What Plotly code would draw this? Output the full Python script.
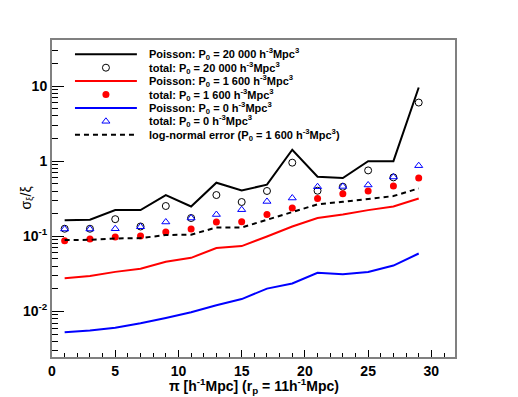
import plotly.graph_objects as go

pi_bins = [1, 3, 5, 7, 9, 11, 13, 15, 17, 19, 21, 23, 25, 27, 29]

poisson_20000 = [0.164, 0.166, 0.223, 0.223, 0.354, 0.249, 0.517, 0.408, 0.486, 1.42,
                 0.621, 0.597, 1.0, 1.0, 9.55]
total_20000 = [0.126, 0.126, 0.169, 0.135, 0.253, 0.175, 0.354, 0.286, 0.401, 0.955,
               0.404, 0.457, 0.753, 0.608, 6.03]
poisson_1600 = [0.0277, 0.0295, 0.0336, 0.0369, 0.0457, 0.0517, 0.0696, 0.0740, 0.0994, 0.135,
                0.175, 0.195, 0.223, 0.249, 0.319]
total_1600 = [0.0871, 0.0918, 0.0976, 0.1006, 0.114, 0.125, 0.155, 0.156, 0.195, 0.238,
              0.319, 0.369, 0.401, 0.467, 0.597]
poisson_0 = [0.00528, 0.00555, 0.00608, 0.00697, 0.00819, 0.00976, 0.0121, 0.0146, 0.0201, 0.0235,
             0.0326, 0.0313, 0.0334, 0.0408, 0.059]
total_0 = [0.125, 0.125, 0.126, 0.134, 0.155, 0.175, 0.195, 0.226, 0.291, 0.323,
           0.457, 0.461, 0.482, 0.616, 0.871]
lognormal_1600 = [0.0890, 0.0898, 0.0935, 0.0946, 0.104, 0.105, 0.131, 0.131, 0.166, 0.210,
                  0.266, 0.288, 0.316, 0.343, 0.434]

y_tickvals = [0.01, 0.1, 1, 10]
y_ticktext = ["10<sup>-2</sup>", "10<sup>-1</sup>", "1", "10"]
x_tickvals = [0, 5, 10, 15, 20, 25, 30]

unit = " h<sup>-3</sup>Mpc<sup>3</sup>"
legend_labels = [
    "Poisson: P<sub>0</sub> = 20 000" + unit,
    "total: P<sub>0</sub> = 20 000" + unit,
    "Poisson: P<sub>0</sub> = 1 600" + unit,
    "total: P<sub>0</sub> = 1 600" + unit,
    "Poisson: P<sub>0</sub> = 0" + unit,
    "total: P<sub>0</sub> = 0" + unit,
    "log-normal error (P<sub>0</sub> = 1 600" + unit + ")",
]

FONT = "Liberation Sans"

# (kind, style) for each series, same order as legend_labels
styles = [
    ("lines", dict(color="black", width=2)),
    ("markers", dict(symbol="circle-open", color="black", size=7, line=dict(width=1))),
    ("lines", dict(color="#ff0000", width=2)),
    ("markers", dict(symbol="circle", color="#ff0000", size=7)),
    ("lines", dict(color="#0000ff", width=2)),
    ("markers", dict(symbol="triangle-up-open", color="#0000ff", size=7, line=dict(width=1))),
    ("lines", dict(color="black", width=2, dash="5px,4px")),
]
series = [poisson_20000, total_20000, poisson_1600, total_1600, poisson_0, total_0, lognormal_1600]

fig = go.Figure()
for (kind, st), ys, lab in zip(styles, series, legend_labels):
    if kind == "lines":
        fig.add_trace(go.Scatter(x=pi_bins, y=ys, mode="lines", line=st, name=lab, showlegend=False))
    else:
        fig.add_trace(go.Scatter(x=pi_bins, y=ys, mode="markers", marker=st, name=lab, showlegend=False))

# plot box in window pixels; the page body has an 8px margin, so the figure is shifted by it
OFF = 8
W, H = 518 - OFF, 397 - OFF
PL, PT, PR, PB = 52, 40, 455.5, 357
PW, PH = PR - PL, PB - PT

# hand-made legend (ROOT style, tight rows) on an overlay axis in plot fractions
key_x0 = (75 - PL) / PW
key_x1 = (137 - PL) / PW
key_xm = (106 - PL) / PW
text_x = (147 - PL) / PW
annotations = []
for i, ((kind, st), lab) in enumerate(zip(styles, legend_labels)):
    yy = (PB - (54.3 + 13.4 * i)) / PH
    if kind == "lines":
        fig.add_trace(go.Scatter(x=[key_x0, key_x1], y=[yy, yy], mode="lines", line=st,
                                 xaxis="x2", yaxis="y2", showlegend=False, hoverinfo="skip"))
    else:
        fig.add_trace(go.Scatter(x=[key_xm], y=[yy], mode="markers", marker=st,
                                 xaxis="x2", yaxis="y2", showlegend=False, hoverinfo="skip"))
    annotations.append(dict(text="<b>" + lab + "</b>", xref="paper", yref="paper",
                            x=text_x, y=yy, xanchor="left", yanchor="middle", showarrow=False,
                            font=dict(size=11, family=FONT)))

annotations.append(dict(text="σ<sub>ξ</sub>/ξ", xref="paper", yref="paper",
                        x=(26 - PL) / PW, y=0.5, xanchor="center", yanchor="middle",
                        textangle=-90, showarrow=False, font=dict(size=14, family=FONT)))
annotations.append(dict(text="<b>π [h<sup>-1</sup>Mpc] (r<sub>p</sub> = 11h<sup>-1</sup>Mpc)</b>",
                        xref="paper", yref="paper", x=0.5, y=(PB - 386) / PH,
                        xanchor="center", yanchor="middle", showarrow=False,
                        font=dict(size=14, family=FONT)))

minor_vals = [m * 10 ** k for k in range(-3, 2) for m in range(2, 10)]

fig.update_layout(
    width=W, height=H,
    margin=dict(l=PL - OFF, r=518 - PR, t=PT - OFF, b=397 - PB),
    paper_bgcolor="white", plot_bgcolor="white",
    font=dict(family=FONT, size=14, color="black"),
    showlegend=False,
    xaxis=dict(range=[0, 31.87], showgrid=False, zeroline=False, automargin=False,
               showline=True, linecolor="#808080", linewidth=2, mirror=True,
               ticks="inside", ticklen=7, tickcolor="black", tickwidth=1,
               tickvals=x_tickvals, ticktext=["<b>%d</b>" % v for v in x_tickvals],
               minor=dict(ticks="inside", ticklen=4, dtick=1, tickcolor="black", showgrid=False)),
    yaxis=dict(type="log", range=[-2.607, 1.613], showgrid=False, zeroline=False, automargin=False,
               showline=True, linecolor="#808080", linewidth=2, mirror=True,
               ticks="inside", ticklen=12, tickcolor="black", tickwidth=1,
               tickvals=y_tickvals, ticktext=["<b>%s</b>" % t for t in y_ticktext],
               minor=dict(ticks="inside", ticklen=6, tickmode="array", tickvals=minor_vals,
                          tickcolor="black", showgrid=False)),
    xaxis2=dict(overlaying="x", range=[0, 1], visible=False, fixedrange=True),
    yaxis2=dict(overlaying="y", range=[0, 1], visible=False, fixedrange=True),
    annotations=annotations,
)

fig.write_html("out.html")
